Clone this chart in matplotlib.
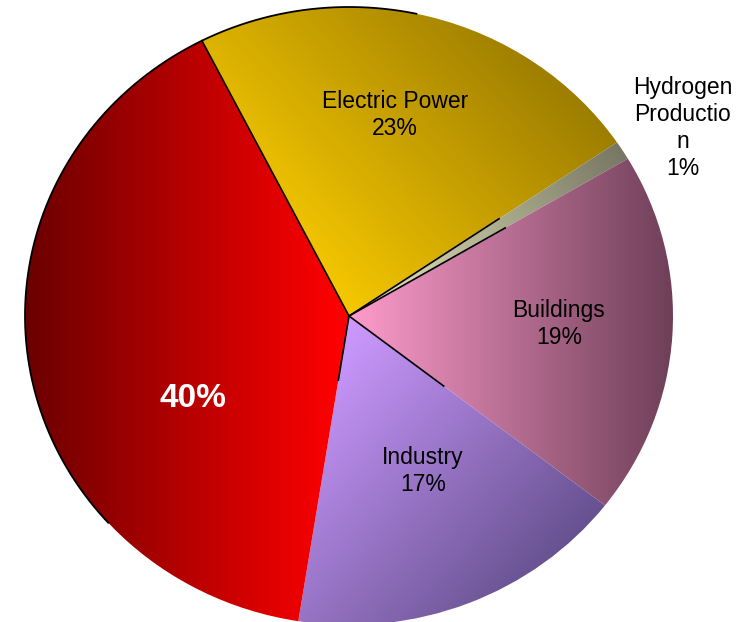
import numpy as np
import matplotlib
matplotlib.use('Agg')
import matplotlib.pyplot as plt
from matplotlib.colors import to_rgb

# share of emissions by sector (percent)
sectors = ['Electric Power', 'Hydrogen\nProductio\nn', 'Buildings', 'Industry', '']
shares = [23, 1, 19, 17, 40]
pct_labels = ['23%', '1%', '19%', '17%', '40%']

W, H = 746, 622
cx, cy = 349, 316      # pie centre in pixels (from top-left)
rx, ry = 324, 309      # slightly flattened pie

fig = plt.figure(figsize=(W / 100, H / 100), dpi=100)
ax = fig.add_axes([0, 0, 1, 1])

wedges, _ = ax.pie(shares, startangle=117, counterclock=False, radius=1,
                   center=(0, 0), wedgeprops=dict(facecolor='none', edgecolor='none'))
for w in wedges:
    w.set_zorder(2)

xlim = (-cx / rx, (W - cx) / rx)
ylim = (-(H - cy) / ry, cy / ry)


def to_data(x, y):
    return (x - cx) / rx, (cy - y) / ry


# linear gradients in pixel space, clipped to each wedge
px, py = np.meshgrid(np.arange(W) + 0.5, np.arange(H) + 0.5)


def gradient(p0, p1, c0, c1):
    d = np.array(p1, float) - np.array(p0, float)
    t = ((px - p0[0]) * d[0] + (py - p0[1]) * d[1]) / (d @ d)
    t = np.clip(t, 0, 1)[..., None]
    c0, c1 = np.array(to_rgb(c0)), np.array(to_rgb(c1))
    return c0 + t * (c1 - c0)


fills = [
    ((330, 300), (610, 30), '#f7c900', '#8a6d00'),   # electric power
    ((349, 318), (625, 150), '#ececc4', '#767662'),  # hydrogen
    ((349, 318), (673, 318), '#ff9ccc', '#6e3f58'),  # buildings
    ((345, 330), (600, 560), '#cc99ff', '#5c4a84'),  # industry
    ((25, 318), (340, 318), '#6a0000', '#ff0000'),   # transportation
]
for w, (p0, p1, c0, c1) in zip(wedges, fills):
    im = ax.imshow(gradient(p0, p1, c0, c1), extent=(*xlim, *ylim), origin='upper',
                   aspect='auto', interpolation='bilinear', zorder=1)
    im.set_clip_path(w)

# outline along the upper-left rim
a = np.radians(np.linspace(78, 222, 300))
ax.plot(np.cos(a), np.sin(a), color='black', lw=1.3, zorder=3)

# dark boundary strokes from the centre
bounds = [wedges[0].theta2, wedges[0].theta1, wedges[1].theta1,
          wedges[2].theta1, wedges[3].theta1]
reach = [1.0, 0.56, 0.56, 0.37, 0.21]
for ang, r in zip(bounds, reach):
    t = np.radians(ang)
    ax.plot([0, r * np.cos(t)], [0, r * np.sin(t)], color='black', lw=1.2, zorder=3)

font = 'Liberation Sans'
label_px = [(395, 115), (683, 128), (559, 324), (423, 471)]
for name, pct, (x, y) in zip(sectors[:4], pct_labels[:4], label_px):
    ax.text(*to_data(x, y), f'{name}\n{pct}', ha='center', va='center',
            multialignment='center', fontsize=16.5, family=font,
            linespacing=1.24, color='black', zorder=4)

ax.text(*to_data(193, 398), pct_labels[4], ha='center', va='center', fontsize=24,
        fontweight='bold', family=font, color='white', zorder=4)

ax.set_xlim(*xlim)
ax.set_ylim(*ylim)
ax.set_aspect('auto')
ax.axis('off')

fig.savefig('out.png', dpi=100, facecolor='white')
